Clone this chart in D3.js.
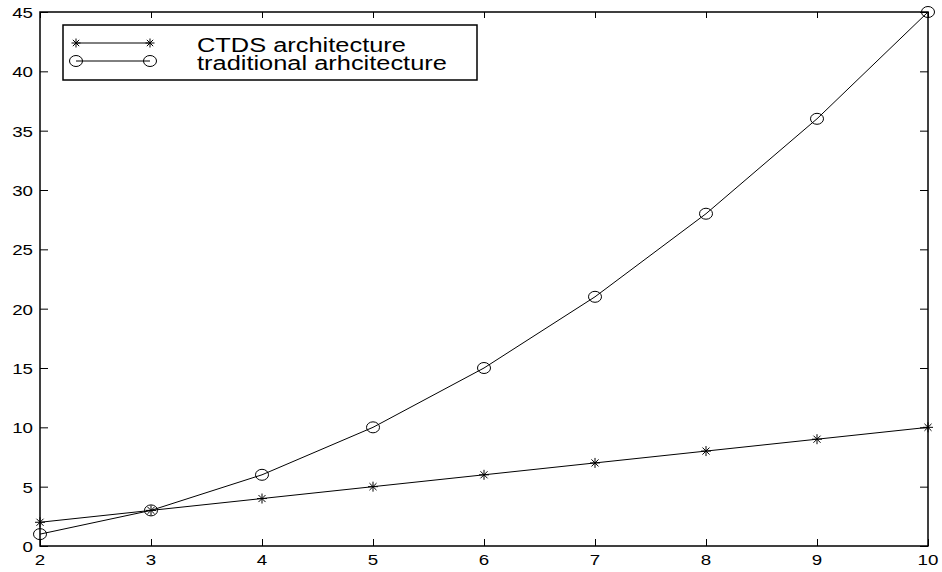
<html>
  <head>
    <script src="https://d3js.org/d3.v7.min.js"></script>
    <style>
      body { margin: 0; background: white; }
      text { font-family: "Liberation Sans", Arial, sans-serif; }
    </style>
  </head>
  <body>
    <script type="text/javascript">
      // input data
      var xValues = [2, 3, 4, 5, 6, 7, 8, 9, 10];
      var ctdsValues = [2, 3, 4, 5, 6, 7, 8, 9, 10];
      var traditionalValues = [1, 3, 6, 10, 15, 21, 28, 36, 45];
      var xTicks = [2, 3, 4, 5, 6, 7, 8, 9, 10];
      var yTicks = [0, 5, 10, 15, 20, 25, 30, 35, 40, 45];
      var seriesNames = ["CTDS architecture", "traditional arhcitecture"];

      var width = 942, height = 572;
      var plotLeft = 40, plotRight = 928, plotTop = 12, plotBottom = 546;

      var svg = d3.select("body").append("svg")
        .attr("width", width)
        .attr("height", height);

      var x = d3.scaleLinear().domain([2, 10]).range([plotLeft, plotRight]);
      var y = d3.scaleLinear().domain([0, 45]).range([plotBottom, plotTop]);

      // ticks on all four sides, pointing inwards
      var axisG = svg.append("g");
      axisG.append("g")
        .attr("transform", "translate(0," + plotBottom + ")")
        .call(d3.axisTop(x).tickValues(xTicks).tickSize(7).tickFormat(""));
      axisG.append("g")
        .attr("transform", "translate(0," + plotTop + ")")
        .call(d3.axisBottom(x).tickValues(xTicks).tickSize(6).tickFormat(""));
      axisG.append("g")
        .attr("transform", "translate(" + plotLeft + ",0)")
        .call(d3.axisRight(y).tickValues(yTicks).tickSize(8).tickFormat(""));
      axisG.append("g")
        .attr("transform", "translate(" + plotRight + ",0)")
        .call(d3.axisLeft(y).tickValues(yTicks).tickSize(8).tickFormat(""));
      axisG.selectAll(".domain").remove();
      axisG.selectAll(".tick line").attr("stroke", "black").attr("stroke-width", 1);

      // tick labels (font is a bit wide in the original, so stretch x)
      svg.selectAll(".xlab").data(xTicks).enter().append("text")
        .attr("transform", d => "translate(" + x(d) + "," + (plotBottom + 19) + ") scale(1.25,1)")
        .attr("text-anchor", "middle")
        .attr("font-size", "15px")
        .text(d => d);
      svg.selectAll(".ylab").data(yTicks).enter().append("text")
        .attr("transform", d => "translate(" + (plotLeft - 7) + "," + (y(d) + 6) + ") scale(1.25,1)")
        .attr("text-anchor", "end")
        .attr("font-size", "15px")
        .text(d => d);

      // box
      svg.append("rect")
        .attr("x", plotLeft).attr("y", plotTop)
        .attr("width", plotRight - plotLeft).attr("height", plotBottom - plotTop)
        .attr("fill", "none").attr("stroke", "black").attr("stroke-width", 1.5);

      var line = d3.line().x(d => x(d[0])).y(d => y(d[1]));

      function star(g, cx, cy, r) {
        var s = r * 0.7071;
        g.append("path")
          .attr("d", "M" + (cx - r) + "," + cy + "H" + (cx + r) +
            "M" + cx + "," + (cy - r) + "V" + (cy + r) +
            "M" + (cx - s) + "," + (cy - s) + "L" + (cx + s) + "," + (cy + s) +
            "M" + (cx - s) + "," + (cy + s) + "L" + (cx + s) + "," + (cy - s))
          .attr("stroke", "black").attr("stroke-width", 1).attr("fill", "none");
      }
      function circ(g, cx, cy) {
        g.append("ellipse")
          .attr("cx", cx).attr("cy", cy).attr("rx", 6.5).attr("ry", 5.5)
          .attr("fill", "none").attr("stroke", "black").attr("stroke-width", 1);
      }

      var ctds = xValues.map((d, i) => [d, ctdsValues[i]]);
      var trad = xValues.map((d, i) => [d, traditionalValues[i]]);

      var plot = svg.append("g");
      plot.append("path").datum(ctds).attr("d", line)
        .attr("fill", "none").attr("stroke", "black").attr("stroke-width", 1);
      plot.append("path").datum(trad).attr("d", line)
        .attr("fill", "none").attr("stroke", "black").attr("stroke-width", 1);
      ctds.forEach(p => star(plot, x(p[0]), y(p[1]), 5));
      trad.forEach(p => circ(plot, x(p[0]), y(p[1])));

      // legend
      var legend = svg.append("g");
      legend.append("rect")
        .attr("x", 63).attr("y", 25).attr("width", 414).attr("height", 55)
        .attr("fill", "white").attr("stroke", "black").attr("stroke-width", 1.5);
      var rows = [43, 61];
      rows.forEach(function (ry, i) {
        legend.append("line")
          .attr("x1", 76).attr("x2", 150).attr("y1", ry).attr("y2", ry)
          .attr("stroke", "black").attr("stroke-width", 1);
        if (i == 0) { star(legend, 76, ry, 4.5); star(legend, 150, ry, 4.5); }
        else { circ(legend, 76, ry); circ(legend, 150, ry); }
        legend.append("text")
          .attr("transform", "translate(197," + (ry + 9) + ") scale(1.27,1)")
          .attr("font-size", "20px")
          .text(seriesNames[i]);
      });
    </script>
  </body>
</html>
